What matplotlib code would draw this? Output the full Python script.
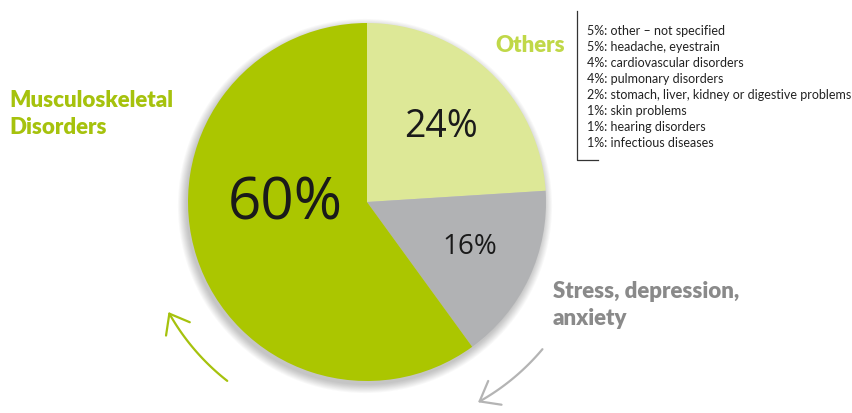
import numpy as np
import matplotlib
matplotlib.use('Agg')
import matplotlib.pyplot as plt
from matplotlib.patches import Circle, FancyArrowPatch
from matplotlib.path import Path

# share of work-related health problems
slices = ['Others', 'Stress, depression, anxiety', 'Musculoskeletal Disorders']
shares = [24, 16, 60]
colors = ['#dde897', '#b1b2b4', '#abc600']

# breakdown of the "Others" share
other_pct = [5, 5, 4, 4, 2, 1, 1, 1]
other_names = ['other \u2013 not specified', 'headache, eyestrain', 'cardiovascular disorders',
               'pulmonary disorders', 'stomach, liver, kidney or digestive problems',
               'skin problems', 'hearing disorders', 'infectious diseases']

W, H = 853, 414
fig = plt.figure(figsize=(W / 100, H / 100), dpi=100)
ax = fig.add_axes([0, 0, 1, 1])

cx, cy, r = 367, H - 203, 179

# soft drop shadow under the pie
for i in range(10):
    ax.add_patch(Circle((cx - 2, cy - 4), r + i * 0.9, color='black', alpha=0.025, lw=0, zorder=0))

wedges, _ = ax.pie(shares, colors=colors, startangle=90, counterclock=False,
                   center=(cx, cy), radius=r, wedgeprops=dict(linewidth=0), frame=True)
for w in wedges:
    w.set_zorder(1)

# percentage labels inside the slices
pct_pos = [(441, 127), (470, 247), (285, 204)]
pct_size = [27, 20, 42]
for v, (px, py), fs in zip(shares, pct_pos, pct_size):
    ax.text(px, H - py, f'{v}%', fontsize=fs, family='Open Sans', color='#1a1a1a',
            ha='center', va='center', zorder=3)

# category labels
ax.text(495, H - 46, 'Others', fontsize=16, family='Lato', weight='heavy',
        color='#c0d848', ha='left', va='center')
ax.text(9, H - 114, 'Musculoskeletal\nDisorders', fontsize=16, family='Lato', weight='heavy',
        color='#a6c20d', ha='left', va='center', linespacing=1.3)
ax.text(553, H - 305, 'Stress, depression,\nanxiety', fontsize=16, family='Lato', weight='heavy',
        color='#8a8a8a', ha='left', va='center', linespacing=1.3)

# bracketed list of the other conditions
ax.plot([577, 577, 598], [H - 12, H - 161, H - 161], color='#333333', lw=0.9)
for i, (p, name) in enumerate(zip(other_pct, other_names)):
    ax.text(587, H - (31 + i * 16), f'{p}%: {name}', fontsize=9, family='Lato',
            color='#222222', ha='left', va='center')


def arc_arrow(a0, a1, rad, color):
    t = np.radians(np.linspace(a0, a1, 40))
    verts = np.column_stack([cx + rad * np.cos(t), cy + rad * np.sin(t)])
    arr = FancyArrowPatch(path=Path(verts), arrowstyle='->,head_length=0.9,head_width=0.7',
                          mutation_scale=14, color=color, lw=1.6)
    ax.add_patch(arr)


arc_arrow(232, 209, 227, '#a6c20d')
arc_arrow(-40, -61, 229, '#b4b4b4')

ax.set_xlim(0, W)
ax.set_ylim(0, H)
ax.set_aspect('equal')
ax.axis('off')

fig.savefig('out.png', dpi=100, facecolor='white')
